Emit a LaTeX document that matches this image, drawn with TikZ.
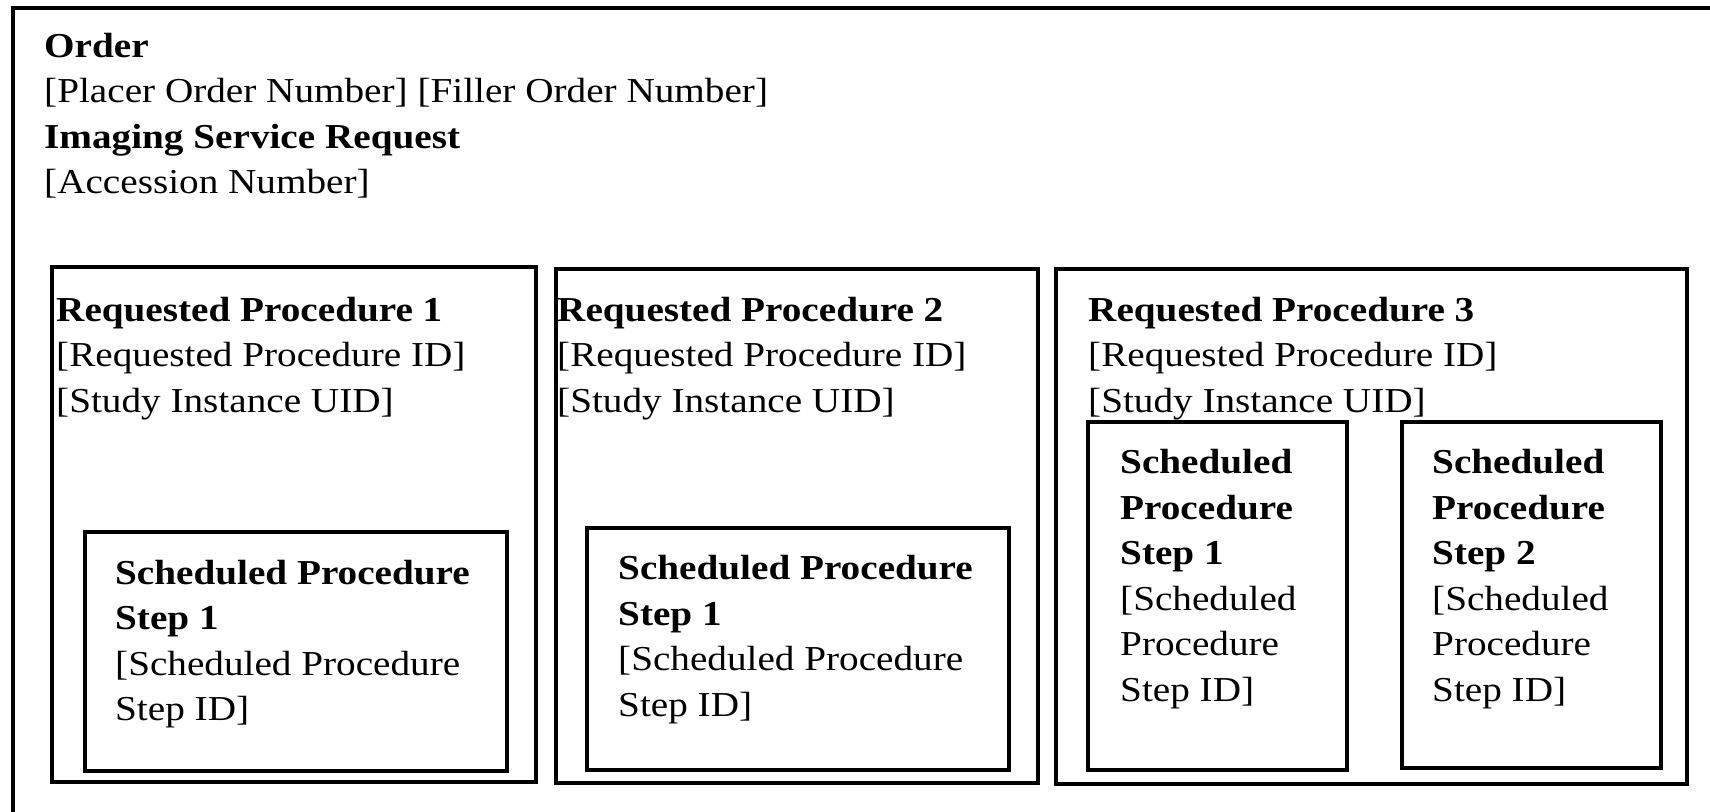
\documentclass[tikz,border=0pt]{standalone}
\usepackage{fontspec}
\setmainfont{Liberation Serif}[FakeStretch=1.12]
\usetikzlibrary{fit}
\tikzset{
  outerbox/.style={draw, line width=3.5pt, inner sep=0pt},
  rpbox/.style={draw, line width=4.5pt, inner sep=0pt},
  spsbox/.style={draw, line width=3.5pt, inner sep=0pt},
  txt/.style={anchor=base west, inner sep=0pt, align=left, font=\fontsize{35}{45.5}\selectfont}
}
\begin{document}
\begin{tikzpicture}[x=1pt,y=-1pt]
\useasboundingbox (0,0) rectangle (1710,811);
\begin{scope}
\clip (0,0) rectangle (1710,811);
\node[outerbox, fit={(13,8) (1800,900)}] (order) {};
\end{scope}
% top text (anchor is the baseline of the last line)
\node[txt] (ordertxt) at (44,193.5) {\textbf{Order}\\{}[Placer Order Number] [Filler Order Number]\\\textbf{Imaging Service Request}\\{}[Accession Number]};
% requested procedures
\node[rpbox, fit={(52,267) (536,782)}] (rp1) {};
\node[rpbox, fit={(556,269) (1038,783)}] (rp2) {};
\node[rpbox, fit={(1056,269) (1687,784)}] (rp3) {};
\node[txt] (rp1txt) at (56,412) {\textbf{Requested Procedure 1}\\{}[Requested Procedure ID]\\{}[Study Instance UID]};
\node[txt] (rp2txt) at (557,412) {\textbf{Requested Procedure 2}\\{}[Requested Procedure ID]\\{}[Study Instance UID]};
\node[txt] (rp3txt) at (1088,412) {\textbf{Requested Procedure 3}\\{}[Requested Procedure ID]\\{}[Study Instance UID]};
% scheduled procedure steps
\node[spsbox, fit={(85,532) (507,771)}] (sps11) {};
\node[spsbox, fit={(587,528) (1009,770)}] (sps21) {};
\node[spsbox, fit={(1088,422) (1347,770)}] (sps31) {};
\node[spsbox, fit={(1402,422) (1661,768)}] (sps32) {};
\node[txt] (sps11txt) at (115,720.5) {\textbf{Scheduled Procedure}\\\textbf{Step 1}\\{}[Scheduled Procedure\\Step ID]};
\node[txt] (sps21txt) at (618,716) {\textbf{Scheduled Procedure}\\\textbf{Step 1}\\{}[Scheduled Procedure\\Step ID]};
\node[txt] (sps31txt) at (1120,701) {\textbf{Scheduled}\\\textbf{Procedure}\\\textbf{Step 1}\\{}[Scheduled\\Procedure\\Step ID]};
\node[txt] (sps32txt) at (1432,701) {\textbf{Scheduled}\\\textbf{Procedure}\\\textbf{Step 2}\\{}[Scheduled\\Procedure\\Step ID]};
\end{tikzpicture}
\end{document}
